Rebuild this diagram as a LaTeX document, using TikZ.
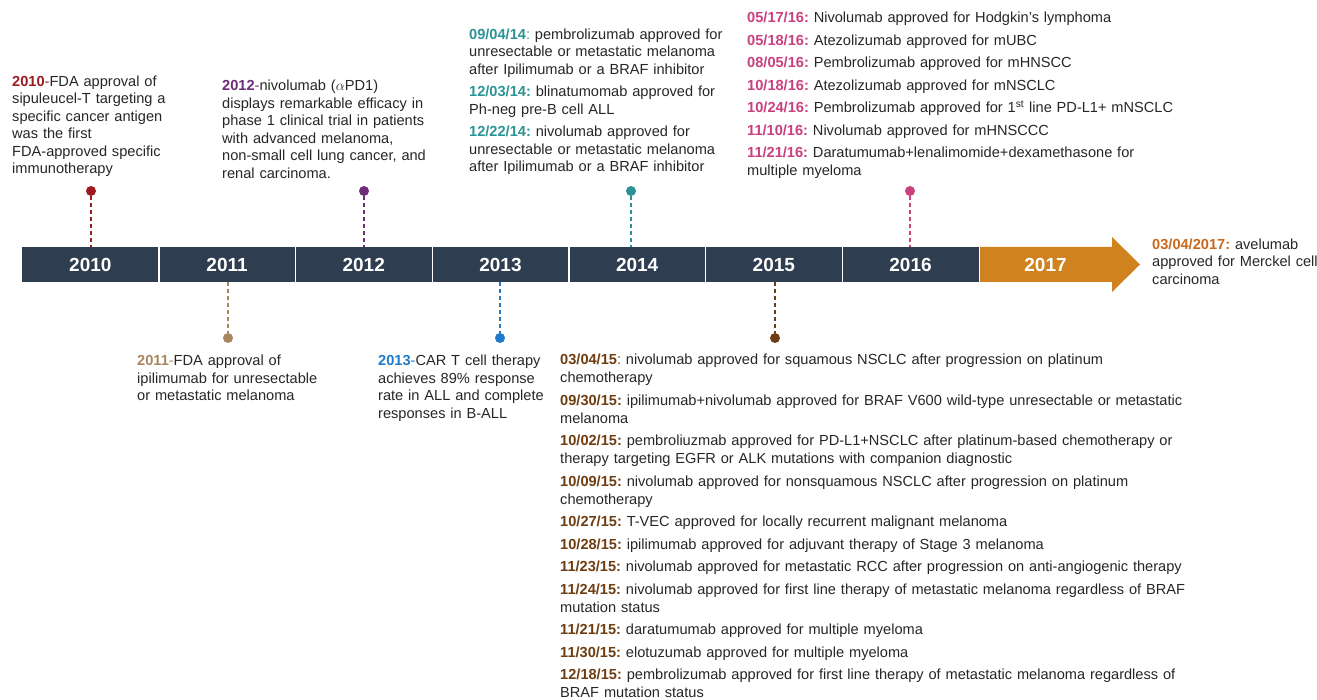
\documentclass[tikz,border=0pt]{standalone}
\usepackage{fontspec}
\setmainfont{Liberation Sans}
\frenchspacing
\definecolor{barblue}{HTML}{2E3D4F}
\definecolor{bodygray}{HTML}{262626}
\definecolor{red10}{HTML}{9E1B22}
\definecolor{tan11}{HTML}{A8865F}
\definecolor{purple12}{HTML}{6E2C7A}
\definecolor{blue13}{HTML}{1F7BC9}
\definecolor{teal14}{HTML}{2B9396}
\definecolor{brown15}{HTML}{6E3D12}
\definecolor{pink16}{HTML}{C9407F}
\definecolor{orange17}{HTML}{D0821E}
\definecolor{date17}{HTML}{C8691E}
\newcommand{\stamp}[2]{\textcolor{#1}{\textbf{#2}}}
\tikzset{
    yearseg/.style={fill=barblue, minimum width=136.7pt, minimum height=35pt, inner sep=0pt,
        text=white, font=\fontsize{19}{22}\selectfont\bfseries},
    pin/.style={circle, fill=#1, minimum size=10pt, inner sep=0pt},
    stem/.style={draw=#1, line width=2.2pt, dash pattern=on 4pt off 3pt},
    info/.style={anchor=base west, align=left, inner sep=0pt, text=bodygray,
        font=\fontsize{14.6}{17.5}\selectfont},
}
\begin{document}
\begin{tikzpicture}[x=1pt,y=-1pt]
    \useasboundingbox (0,0) rectangle (1317,700);
    % year bar
    \foreach \yr [count=\i from 0] in {2010,...,2016}
        \node[yearseg] (seg\yr) at (90.35+\i*136.7, 264.5) {\yr};
    \fill[orange17] (979,247) -- (1112,247) -- (1112,237) -- (1140,264.5)
        -- (1112,292) -- (1112,282) -- (979,282) -- cycle;
    \node[yearseg, fill=none] (seg2017) at (1045.5,264.5) {2017};
    \foreach \yr in {2010,...,2016}
        \draw[white, line width=1.2pt] (seg\yr.north east) -- (seg\yr.south east);

    % pins above the bar
    \node[pin=red10] (dot2010) at (91,191) {};
    \node[pin=purple12] (dot2012) at (364,191) {};
    \node[pin=teal14] (dot2014) at (631,191) {};
    \node[pin=pink16] (dot2016) at (910,191) {};
    \draw[stem=red10] (dot2010) -- (dot2010 |- seg2010.north);
    \draw[stem=purple12] (dot2012) -- (dot2012 |- seg2012.north);
    \draw[stem=teal14] (dot2014) -- (dot2014 |- seg2014.north);
    \draw[stem=pink16] (dot2016) -- (dot2016 |- seg2016.north);

    % pins below the bar
    \node[pin=tan11] (dot2011) at (228,338) {};
    \node[pin=blue13] (dot2013) at (500,338) {};
    \node[pin=brown15] (dot2015) at (775,338) {};
    \draw[stem=tan11] (dot2011 |- seg2011.south) -- (dot2011);
    \draw[stem=blue13] (dot2013 |- seg2013.south) -- (dot2013);
    \draw[stem=brown15] (dot2015 |- seg2015.south) -- (dot2015);

    % texts
    \node[info, text width=175pt] (txt2010) at (12,86.5) {\stamp{red10}{2010}\textcolor{red10}{-}FDA approval of\\
        sipuleucel-T targeting a\\ specific cancer antigen\\ was the first\\ FDA-approved specific\\ immunotherapy};
    \node[info, text width=235pt] (txt2012) at (222,91) {\stamp{purple12}{2012}\textcolor{purple12}{-}nivolumab ($\alpha$PD1)\\
        displays remarkable efficacy in\\ phase 1 clinical trial in patients\\ with advanced melanoma,\\
        non-small cell lung cancer, and\\ renal carcinoma.};
    \node[info, text width=280pt] (txt2014) at (469,39.5) {\stamp{teal14}{09/04/14}\textcolor{teal14}{:} pembrolizumab approved for\\
        unresectable or metastatic melanoma\\ after Ipilimumab or a BRAF inhibitor\\[5pt]
        \stamp{teal14}{12/03/14:} blinatumomab approved for\\ Ph-neg pre-B cell ALL\\[5pt]
        \stamp{teal14}{12/22/14:} nivolumab approved for\\ unresectable or metastatic melanoma\\
        after Ipilimumab or a BRAF inhibitor};
    \node[info, text width=460pt] (txt2016) at (747,22.7) {\stamp{pink16}{05/17/16:} Nivolumab approved for Hodgkin's lymphoma\\[5pt]
        \stamp{pink16}{05/18/16:} Atezolizumab approved for mUBC\\[5pt]
        \stamp{pink16}{08/05/16:} Pembrolizumab approved for mHNSCC\\[5pt]
        \stamp{pink16}{10/18/16:} Atezolizumab approved for mNSCLC\\[5pt]
        \stamp{pink16}{10/24/16:} Pembrolizumab approved for 1\textsuperscript{st} line PD-L1+ mNSCLC\\[5pt]
        \stamp{pink16}{11/10/16:} Nivolumab approved for mHNSCCC\\[5pt]
        \stamp{pink16}{11/21/16:} Daratumumab+lenalimomide+dexamethasone for\\ multiple myeloma};
    \node[info, text width=200pt] (txt2017) at (1152,249.5) {\stamp{date17}{03/04/2017:} avelumab\\
        approved for Merckel cell\\ carcinoma};
    \node[info, text width=210pt] (txt2011) at (137,366) {\stamp{tan11}{2011}\textcolor{tan11}{-}FDA approval of\\
        ipilimumab for unresectable\\ or metastatic melanoma};
    \node[info, text width=185pt] (txt2013) at (378,366) {\stamp{blue13}{2013}\textcolor{blue13}{-}CAR T cell therapy\\
        achieves 89\% response\\ rate in ALL and complete\\ responses in B-ALL};
    \node[info, text width=660pt, font=\fontsize{14.6}{18}\selectfont] (txt2015) at (560,365) {%
        \stamp{brown15}{03/04/15}\textcolor{brown15}{:} nivolumab approved for squamous NSCLC after progression on platinum\\ chemotherapy\\[4.5pt]
        \stamp{brown15}{09/30/15:} ipilimumab+nivolumab approved for BRAF V600 wild-type unresectable or metastatic\\ melanoma\\[4.5pt]
        \stamp{brown15}{10/02/15:} pembroliuzmab approved for PD-L1+NSCLC after platinum-based chemotherapy or\\ therapy targeting EGFR or ALK mutations with companion diagnostic\\[4.5pt]
        \stamp{brown15}{10/09/15:} nivolumab approved for nonsquamous NSCLC after progression on platinum\\ chemotherapy\\[4.5pt]
        \stamp{brown15}{10/27/15:} T-VEC approved for locally recurrent malignant melanoma\\[4.5pt]
        \stamp{brown15}{10/28/15:} ipilimumab approved for adjuvant therapy of Stage 3 melanoma\\[4.5pt]
        \stamp{brown15}{11/23/15:} nivolumab approved for metastatic RCC after progression on anti-angiogenic therapy\\[4.5pt]
        \stamp{brown15}{11/24/15:} nivolumab approved for first line therapy of metastatic melanoma regardless of BRAF\\ mutation status\\[4.5pt]
        \stamp{brown15}{11/21/15:} daratumumab approved for multiple myeloma\\[4.5pt]
        \stamp{brown15}{11/30/15:} elotuzumab approved for multiple myeloma\\[4.5pt]
        \stamp{brown15}{12/18/15:} pembrolizumab approved for first line therapy of metastatic melanoma regardless of\\ BRAF mutation status};
\end{tikzpicture}
\end{document}
